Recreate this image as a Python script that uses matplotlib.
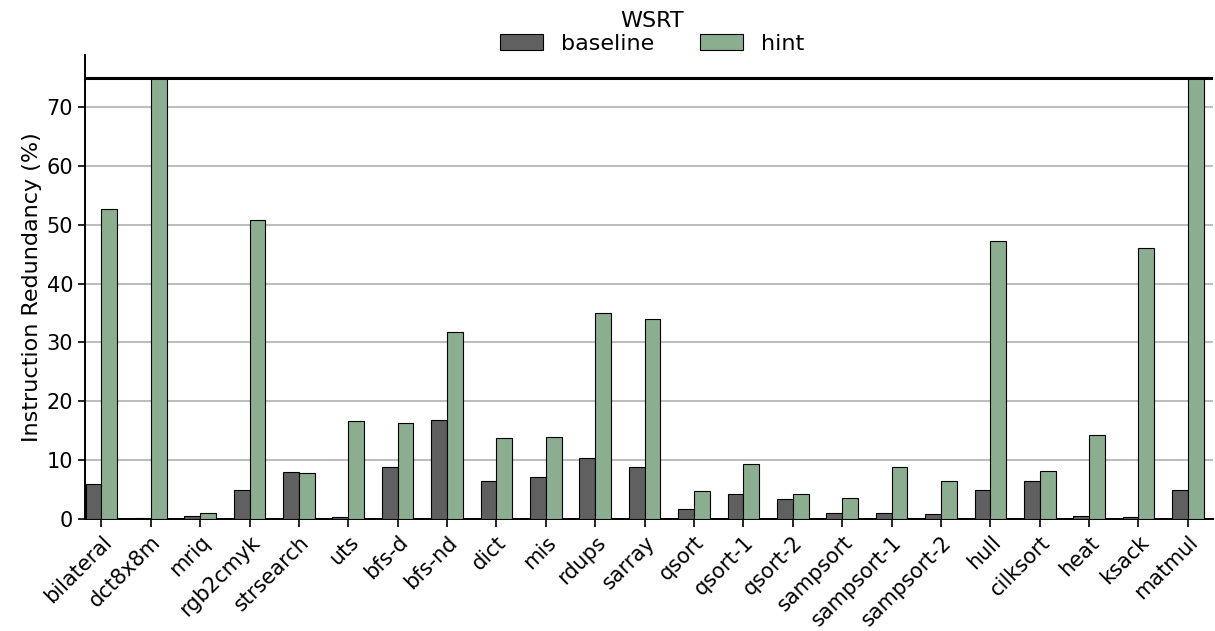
import matplotlib
matplotlib.use("Agg")
import matplotlib.pyplot as plt
import numpy as np

# 讀圖估計值（hint 中 dct8x8m / matmul 於 75 處截斷）
benchmarks = ["bilateral", "dct8x8m", "mriq", "rgb2cmyk", "strsearch", "uts",
              "bfs-d", "bfs-nd", "dict", "mis", "rdups", "sarray", "qsort",
              "qsort-1", "qsort-2", "sampsort", "sampsort-1", "sampsort-2",
              "hull", "cilksort", "heat", "ksack", "matmul"]
baseline = [5.9, 0.1, 0.5, 4.9, 8.0, 0.4, 8.8, 16.8, 6.5, 7.1, 10.4, 8.8, 1.7,
            4.3, 3.4, 1.1, 1.0, 0.9, 4.9, 6.4, 0.5, 0.3, 4.9]
hint = [52.7, 75.0, 1.1, 50.8, 7.9, 16.6, 16.3, 31.8, 13.8, 14.0, 35.0, 33.9,
        4.8, 9.3, 4.3, 3.5, 8.8, 6.4, 47.2, 8.2, 14.2, 46.1, 75.0]
CAP = 75

plt.rcParams["font.family"] = ["DejaVu Sans"]

fig = plt.figure(figsize=(12.15, 6.31), dpi=100)
ax = fig.add_axes([0.070, 0.1775, 0.928, 0.735])

x = np.arange(len(benchmarks))
w = 0.32
ax.bar(x - w / 2, np.minimum(baseline, CAP), w, color="#606060",
       edgecolor="black", linewidth=0.8, label="baseline", zorder=3)
ax.bar(x + w / 2, np.minimum(hint, CAP), w, color="#8aae8f",
       edgecolor="black", linewidth=0.8, label="hint", zorder=3)

ax.axhline(CAP, color="black", linewidth=2.2, zorder=4)

ax.set_xlim(-0.33, len(benchmarks) - 0.5)
ax.set_ylim(0, 78.8)
ax.set_yticks(range(0, 71, 10))
ax.yaxis.grid(True, color="#b0b0b0", linewidth=1.2, zorder=0)
ax.set_xticks(x)
ax.set_xticklabels(benchmarks, rotation=45, ha="right",
                   rotation_mode="anchor", fontsize=15)
ax.tick_params(axis="y", labelsize=15, length=5, width=1.2)
ax.tick_params(axis="x", length=6, width=1.2)
ax.set_ylabel("Instruction Redundancy (%)", fontsize=16, labelpad=3)

for side in ("top", "right"):
    ax.spines[side].set_visible(False)
for side in ("left", "bottom"):
    ax.spines[side].set_linewidth(1.4)

leg = ax.legend(title="WSRT", ncol=2, frameon=False, fontsize=16,
                title_fontsize=16, loc="lower center",
                bbox_to_anchor=(0.503, 0.984), columnspacing=2.05,
                handlelength=1.95, handleheight=0.68, borderaxespad=0,
                labelspacing=0.2, handletextpad=0.8)
leg._legend_box.sep = 2

fig.savefig("out.png", dpi=100)
